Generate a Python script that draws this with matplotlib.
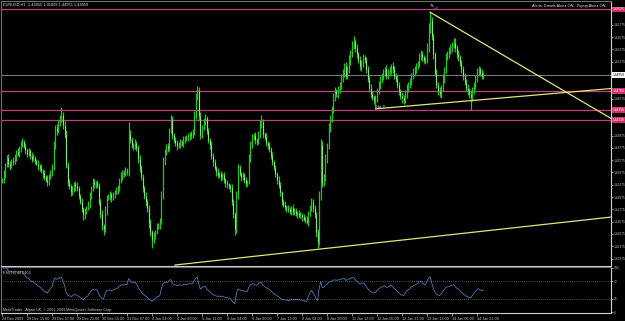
import numpy as np
import pandas as pd
import matplotlib
matplotlib.use("Agg")
import matplotlib.pyplot as plt
import matplotlib.transforms as mtransforms

# EURUSD H1 closes, in pips (1/10000)
close_pips = [
    14325, 14335, 14350, 14361, 14352, 14348, 14356, 14355, 14362, 14370, 14368, 14378, 14383, 14387,
    14380, 14374, 14368, 14372, 14365, 14360, 14361, 14356, 14352, 14348, 14345,
    14340, 14336, 14330, 14326, 14322, 14330, 14338, 14345,
    14380, 14410, 14405, 14418, 14425, 14431, 14415, 14398,
    14350, 14322, 14315, 14306, 14310, 14318, 14315, 14312,
    14300, 14290, 14278, 14268, 14275, 14280, 14285, 14300, 14312, 14322,
    14318, 14320, 14317, 14290, 14270, 14250, 14245, 14275, 14296,
    14298, 14302, 14296, 14301, 14305, 14308, 14312, 14325, 14332, 14337,
    14335, 14340, 14338, 14400, 14390, 14382, 14380, 14385, 14377, 14360, 14345,
    14330, 14312, 14300, 14290, 14280, 14255, 14240, 14228, 14235, 14241,
    14250, 14252, 14257, 14300, 14355, 14370, 14380, 14377, 14405, 14425, 14398,
    14390, 14385, 14380, 14383, 14387, 14385, 14390, 14392, 14393,
    14395, 14400, 14398, 14402, 14430, 14460, 14470, 14430, 14398,
    14410, 14420, 14426, 14405, 14390, 14382, 14365, 14355,
    14345, 14338, 14333, 14335, 14330, 14333, 14325, 14320, 14318, 14315, 14312,
    14290, 14270, 14245, 14300, 14345, 14335, 14330, 14333, 14325, 14320, 14322,
    14360, 14382, 14395, 14398, 14390, 14387, 14400, 14415, 14420, 14400,
    14395, 14385, 14382, 14375, 14365, 14355, 14345, 14335, 14325, 14317,
    14305, 14290, 14285, 14282, 14280, 14278, 14275, 14280, 14273,
    14275, 14270, 14272, 14268, 14268, 14265, 14262, 14260, 14257,
    14270, 14280, 14290, 14280, 14268, 14240, 14225, 14300, 14382, 14320,
    14330, 14360, 14380, 14410, 14425, 14440, 14460, 14470, 14465, 14472, 14480,
    14490, 14500, 14510, 14495, 14505, 14520, 14530, 14545, 14550, 14540,
    14530, 14520, 14510, 14515, 14525, 14520,
    14505, 14490, 14475, 14465, 14460, 14455, 14458, 14470, 14480, 14488,
    14495, 14500, 14505, 14495, 14500, 14504, 14510, 14505, 14495, 14490,
    14480, 14470, 14462, 14458, 14455, 14465, 14475, 14480, 14485, 14495, 14500, 14505,
    14510, 14515, 14525, 14530, 14525, 14520, 14520, 14540, 14570, 14585, 14560, 14530,
    14500, 14480, 14470, 14465, 14475, 14490, 14505,
    14525, 14530, 14535, 14540, 14545, 14548, 14540, 14530, 14525, 14515,
    14505, 14495, 14485, 14475, 14470, 14465, 14460, 14470, 14480, 14490,
    14500, 14505, 14500, 14495, 14496,
]
up_wick = [
    4, 6, 3, 5, 7, 4, 3, 6, 5, 4, 7, 3, 5, 6, 4, 5, 3, 6, 4, 5,
    6, 4, 3, 5, 4, 6, 3, 5, 4, 7, 5, 4, 6, 8, 5, 7, 4, 6, 13, 5,
    6, 8, 4, 5, 3, 6, 4, 5, 7, 4, 3, 6, 4, 5, 3, 6, 5, 4, 7, 5,
    4, 6, 3, 5, 7, 4, 8, 5, 4, 6, 3, 5, 4, 6, 5, 3, 7, 4, 5, 6,
    4, 20, 6, 5, 4, 7, 3, 5, 6, 4, 5, 3, 6, 4, 5, 7, 4, 6, 3, 5,
    4, 6, 8, 7, 5, 4, 6, 5, 6, 4, 3, 5, 6, 4, 5, 3, 6, 4, 5, 7,
    4, 5, 6, 8, 7, 8, 6, 5, 4, 6, 7, 4, 5, 3, 6, 4, 5, 3, 6, 4,
    5, 3, 6, 4, 5, 3, 4, 6, 5, 4, 8, 6, 5, 4, 6, 3, 5, 4, 7, 6,
    5, 4, 6, 3, 5, 7, 11, 5, 4, 6, 3, 5, 4, 6, 3, 5, 4, 6, 5, 3,
    4, 6, 3, 5, 4, 3, 6, 4, 5, 3, 4, 6, 3, 5, 4, 6, 5, 4, 6, 5,
    4, 6, 5, 8, 10, 6, 5, 7, 6, 8, 6, 5, 7, 6, 4, 6, 5, 7, 6, 5,
    7, 6, 8, 7, 6, 10, 5, 6, 4, 7, 6, 5, 4, 6, 5, 4, 6, 5, 4, 6,
    5, 7, 6, 5, 6, 4, 7, 5, 6, 4, 7, 5, 4, 6, 5, 4, 6, 5, 7, 6,
    5, 6, 4, 7, 5, 6, 4, 7, 6, 5, 4, 6, 8, 10, 13, 6, 5, 4, 6, 5,
    6, 5, 7, 4, 6, 5, 7, 6, 5, 8, 8, 5, 6, 4, 5, 6, 4, 5, 6, 5,
    7, 6, 5, 6, 7, 5, 4, 6, 5,
]
dn_wick = [
    5, 4, 6, 3, 5, 7, 4, 5, 3, 6, 4, 5, 7, 4, 3, 6, 5, 4, 6, 5,
    4, 5, 3, 6, 5, 4, 7, 5, 4, 6, 5, 3, 6, 4, 5, 6, 4, 5, 6, 7,
    5, 6, 7, 4, 6, 5, 4, 7, 5, 6, 4, 5, 8, 6, 5, 4, 6, 5, 4, 5,
    6, 4, 5, 7, 6, 9, 5, 6, 4, 5, 6, 4, 5, 3, 6, 5, 4, 6, 5, 4,
    5, 6, 4, 5, 6, 4, 5, 7, 6, 5, 6, 5, 7, 6, 8, 6, 13, 5, 6, 4,
    5, 6, 4, 6, 5, 4, 6, 5, 4, 6, 5, 4, 6, 3, 5, 4, 6, 5, 4, 5,
    4, 6, 5, 4, 6, 5, 7, 6, 5, 4, 6, 5, 4, 6, 5, 7, 4, 6, 5, 4,
    6, 5, 4, 6, 5, 4, 6, 5, 7, 9, 6, 5, 4, 6, 5, 4, 6, 5, 4, 6,
    5, 4, 6, 5, 4, 6, 5, 7, 4, 5, 6, 4, 5, 6, 4, 5, 6, 4, 5, 6,
    4, 5, 6, 4, 5, 6, 4, 5, 3, 6, 4, 5, 6, 4, 5, 3, 6, 4, 5, 6,
    5, 8, 10, 6, 7, 6, 5, 6, 7, 5, 6, 5, 6, 7, 5, 6, 5, 6, 5, 7,
    6, 5, 6, 7, 5, 6, 7, 6, 5, 6, 7, 6, 5, 6, 5, 6, 7, 5, 6, 14,
    6, 5, 6, 5, 7, 6, 5, 6, 5, 7, 6, 5, 6, 5, 6, 5, 7, 6, 5, 6,
    7, 5, 6, 5, 6, 5, 4, 6, 5, 6, 5, 6, 5, 6, 5, 7, 8, 6, 5, 6,
    5, 6, 5, 7, 6, 5, 6, 5, 6, 5, 6, 7, 6, 5, 6, 7, 6, 5, 7, 6,
    21, 6, 5, 6, 5, 6, 5, 6, 5,
]

price_ticks = [1.45775, 1.45575, 1.45375, 1.45175, 1.44975, 1.44775, 1.44575, 1.44375,
               1.44175, 1.43975, 1.43775, 1.43575, 1.43375, 1.43175, 1.42975, 1.42775,
               1.42575, 1.42375, 1.42175, 1.41975]
date_labels = ["24 Dec 2009", "28 Dec 15:00", "29 Dec 07:00", "29 Dec 23:00", "30 Dec 15:00",
               "31 Dec 07:00", "4 Jan 04:00", "4 Jan 20:00", "5 Jan 12:00", "6 Jan 04:00",
               "6 Jan 20:00", "7 Jan 12:00", "8 Jan 04:00", "8 Jan 20:00", "11 Jan 12:00",
               "12 Jan 05:00", "12 Jan 21:00", "13 Jan 13:00", "14 Jan 05:00", "14 Jan 21:00"]
label_step = 16

level_prices = [1.46025, 1.44700, 1.44390, 1.44230]   # pink horizontal lines
bid = 1.44959
down_line_x, down_line_y = [274, 390], [1.45980, 1.44250]
hat_line_x, hat_line_y = [239.4, 390], [1.44410, 1.44740]
support_x, support_y = [110.7, 390], [1.41870, 1.42650]
rsi_levels = [70, 30]
rsi_ticks = [100, 70, 30, 0]

close = np.array(close_pips) / 10000
open_ = np.r_[close[0], close[:-1]]
high = np.maximum(open_, close) + np.array(up_wick) / 10000
low = np.minimum(open_, close) - np.array(dn_wick) / 10000
x = np.arange(len(close))

# RSI(14), Wilder smoothing
d = pd.Series(close).diff()
gain = d.clip(lower=0).ewm(alpha=1/14, adjust=False).mean()
loss = (-d.clip(upper=0)).ewm(alpha=1/14, adjust=False).mean()
rsi = (100 - 100 / (1 + gain / loss)).to_numpy()

W, H = 625, 321
def box(l, t, r, b):
    return [l / W, 1 - b / H, (r - l) / W, (b - t) / H]

plt.rcParams['font.family'] = ['Liberation Sans', 'DejaVu Sans']
fig = plt.figure(figsize=(W / 100, H / 100), dpi=100, facecolor='black')
ax = fig.add_axes(box(1, 1, 611, 266))
ax2 = fig.add_axes(box(1, 267, 611, 313))

lbl = dict(fontsize=2.7, color='#c8c8c8')
for a in (ax, ax2):
    a.set_facecolor('black')
    a.set_xlim(-0.64, 389.76)
    for s in ('left', 'top'):
        a.spines[s].set_color('#707070')
    for s in ('right', 'bottom'):
        a.spines[s].set_color('#d0d0d0')
    for s in a.spines.values():
        s.set_linewidth(0.8)
    a.yaxis.tick_right()
    a.tick_params(axis='y', colors='#c8c8c8', labelsize=2.3, length=1.5, width=0.5, pad=0.6)

ax.set_ylim(1.41854, 1.46163)
ax.set_xticks([])
# MT4 hides the scale labels that sit under the price boxes
boxed = level_prices + [bid]
shown = [p for p in price_ticks if min(abs(p - b) for b in boxed) > 0.0009]
ax.set_yticks(shown)
ax.set_yticklabels([f"{p:.5f}" for p in shown])

# candles
ax.vlines(x, low, high, colors='#22c422', lw=0.9, zorder=3)
bear = close < open_
ax.vlines(x[bear], close[bear], open_[bear], colors='#c8f5c0', lw=0.45, zorder=4)

# horizontal levels and trend lines
for p in level_prices:
    ax.axhline(p, color='#c0407a', lw=0.9, zorder=2)
ax.axhline(bid, color='#777777', lw=0.8, zorder=2)
ax.plot(down_line_x, down_line_y, color='#e4e47a', lw=0.9, zorder=5)
ax.plot(hat_line_x, hat_line_y, color='#e4e47a', lw=0.9, zorder=5)
ax.plot(support_x, support_y, color='#e4e47a', lw=0.9, zorder=5)
ax.text(hat_line_x[0], hat_line_y[0] + 0.0001, "Hat_F", fontsize=2.8, color='#d8d8d8',
        ha='left', va='bottom', zorder=6)
ax.text(down_line_x[0] - 1, down_line_y[0] + 0.0002, "Hat_E", fontsize=2.5, color='#b0b0b0',
        rotation=-35, ha='left', va='bottom', zorder=6)

trans = mtransforms.blended_transform_factory(ax.transAxes, ax.transData)
for p in level_prices:
    ax.text(1.002, p, f"{p:.5f}", transform=trans, fontsize=2.3, color='white', ha='left',
            va='center', clip_on=False, zorder=10,
            bbox=dict(boxstyle='square,pad=0.2', fc='#d0306a', ec='none'))
ax.text(1.002, bid, f"{bid:.5f}", transform=trans, fontsize=2.3, color='black', ha='left',
        va='center', clip_on=False, zorder=10,
        bbox=dict(boxstyle='square,pad=0.2', fc='white', ec='none'))

# RSI window
ax2.set_ylim(-2.27, 102.27)
ax2.plot(x, rsi, color='#4f78b8', lw=0.6)
for lv in rsi_levels:
    ax2.axhline(lv, color='#a0a0a0', lw=0.5, ls=(0, (1, 2)))
ax2.set_yticks(rsi_ticks)
ax2.set_yticklabels([str(t) for t in rsi_ticks])
ax2.set_xticks(x[::label_step][:len(date_labels)])
ax2.set_xticklabels(date_labels, ha='left')
ax2.tick_params(axis='x', colors='#c8c8c8', labelsize=2.7, length=2, width=0.5, pad=0.8)
ax2.text(0.004, 0.92, "RSI(14) 48.0403", transform=ax2.transAxes, ha='left', va='top', **lbl)
ax2.text(0.004, 0.03, "MetaTrader - Alpari UK, \u00a9 2001-2009 MetaQuotes Software Corp.",
         transform=ax2.transAxes, ha='left', va='bottom', **lbl)

fig.text(3 / W, 1 - 4.5 / H, "EURUSD,H1  1.44955 1.45009 1.44955 1.44959", ha='left',
         va='center', fontsize=2.8, color='#e0e0e0')
fig.text(607 / W, 1 - 5.5 / H, "Alerts: Emails Alerts ON.  Popup Alerts ON.", ha='right',
         va='center', fontsize=2.8, color='#e8e8c0')

fig.savefig("out.png", dpi=100, facecolor='black')
